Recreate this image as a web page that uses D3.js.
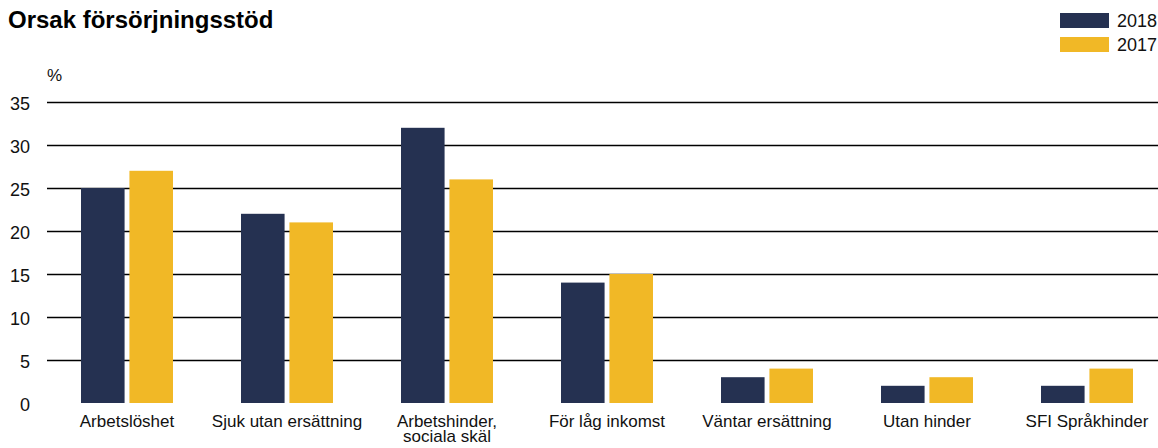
<html>
<head>
<meta charset="utf-8">
<title>Orsak försörjningsstöd</title>
<script src="https://cdn.jsdelivr.net/npm/d3@7"></script>
<style>
body{
    margin: 0;
    background: #fff;
    font-family: "Liberation Sans", Arial, sans-serif;
}
.grid line {
    stroke: #000;
    stroke-width: 1.3px;
}
.tick text {
    font-size: 18px;
    fill: #111;
}
</style>
</head>
<body>
<div id="chart"></div>
<script>
var categories = ['Arbetslöshet', 'Sjuk utan ersättning', 'Arbetshinder,\nsociala skäl', 'För låg inkomst',
                  'Väntar ersättning', 'Utan hinder', 'SFI Språkhinder'],
    series     = ['2018', '2017'],
    vals2018   = [25, 22, 32, 14, 3, 2, 2],
    vals2017   = [27, 21, 26, 15, 4, 3, 4],
    yTicks     = [0, 5, 10, 15, 20, 25, 30, 35],
    colors     = {'2018': '#253151', '2017': '#f1b826'},
    width      = 1158,
    height     = 448,
    plotLeft   = 47,
    plotRight  = 1167,
    plotTop    = 102,
    plotBottom = 403;

var data = categories.map(function(c, i) {
    return {cat: c, '2018': vals2018[i], '2017': vals2017[i]};
});

var svg = d3.select('#chart').append('svg')
    .attr('width', width)
    .attr('height', height);

var x = d3.scaleBand().domain(categories).range([plotLeft, plotRight]);
var x1 = d3.scaleBand().domain(series).range([-46, 46]).paddingInner(0.1);
var y = d3.scaleLinear().domain([0, 35]).range([plotBottom, plotTop]);

// title
svg.append('text')
    .attr('x', 8).attr('y', 28)
    .style('font-size', '24px').style('font-weight', 'bold')
    .text('Orsak försörjningsstöd');

svg.append('text')
    .attr('x', 47).attr('y', 81)
    .style('font-size', '17px')
    .style('fill', '#111')
    .text('%');

// grid lines
svg.append('g').attr('class', 'grid')
    .selectAll('line')
    .data(yTicks.filter(function(d) { return d > 0; }))
    .enter().append('line')
    .attr('x1', plotLeft).attr('x2', width)
    .attr('y1', function(d) { return Math.round(y(d)) + 0.5; })
    .attr('y2', function(d) { return Math.round(y(d)) + 0.5; });

// y axis labels
var yAxis = svg.append('g')
    .attr('transform', 'translate(30,0)')
    .call(d3.axisLeft(y).tickValues(yTicks).tickSize(0).tickPadding(0));
yAxis.select('.domain').remove();
yAxis.selectAll('text').attr('dy', '0.4em');

// bars
var groups = svg.append('g').selectAll('g')
    .data(data)
    .enter().append('g')
    .attr('transform', function(d) { return 'translate(' + (x(d.cat) + x.bandwidth() / 2) + ',0)'; });

groups.selectAll('rect')
    .data(function(d) { return series.map(function(s) { return {key: s, value: d[s]}; }); })
    .enter().append('rect')
    .attr('x', function(d) { return x1(d.key); })
    .attr('width', x1.bandwidth())
    .attr('y', function(d) { return y(d.value); })
    .attr('height', function(d) { return y(0) - y(d.value); })
    .attr('fill', function(d) { return colors[d.key]; });

// category labels
var labels = svg.append('g').selectAll('text')
    .data(categories)
    .enter().append('text')
    .attr('text-anchor', 'middle')
    .attr('x', function(d) { return x(d) + x.bandwidth() / 2; })
    .attr('y', 427)
    .style('font-size', '17px')
    .style('fill', '#111');
labels.selectAll('tspan')
    .data(function(d) { return d.split('\n'); })
    .enter().append('tspan')
    .attr('x', function() { return this.parentNode.getAttribute('x'); })
    .attr('dy', function(d, i) { return i ? '0.9em' : 0; })
    .text(function(d) { return d; });

// legend
var legend = svg.append('g').selectAll('g')
    .data(series)
    .enter().append('g')
    .attr('transform', function(d, i) { return 'translate(1060,' + (13 + i * 24) + ')'; });
legend.append('rect')
    .attr('width', 49).attr('height', 15)
    .attr('fill', function(d) { return colors[d]; });
legend.append('text')
    .attr('x', 57).attr('y', 14)
    .style('font-size', '18px')
    .style('fill', '#111')
    .text(function(d) { return d; });
</script>
</body>
</html>
